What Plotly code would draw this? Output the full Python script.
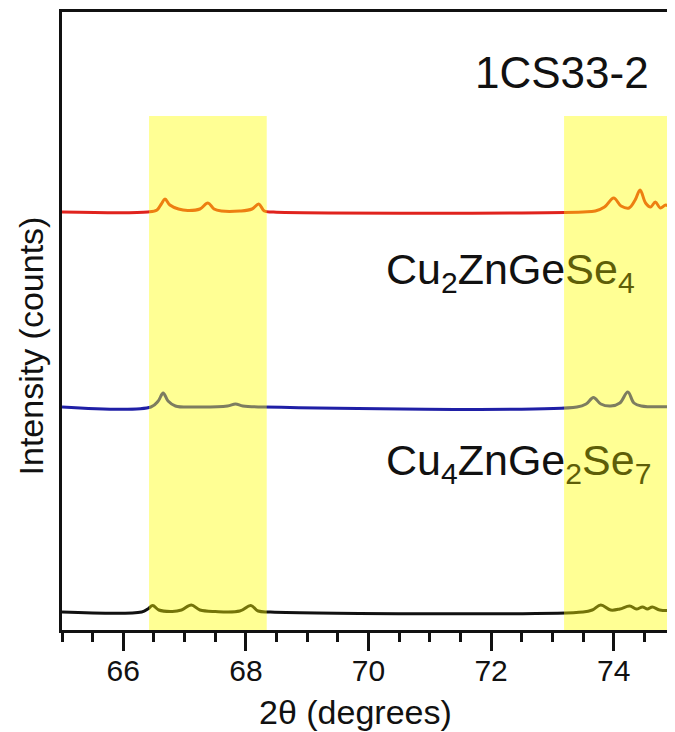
import plotly.graph_objects as go

# ---- data (intensity in arbitrary counts) ----
red_x = [65.0, 66.40, 66.55, 66.62, 66.68, 66.76, 66.90, 67.05, 67.25, 67.38, 67.48, 67.60,
         67.90, 68.10, 68.21, 68.30, 68.45, 73.50, 73.70, 73.85, 74.00, 74.12, 74.25, 74.35,
         74.43, 74.52, 74.60, 74.68, 74.76, 74.85, 74.95, 75.0]
red_y = [418, 418, 420, 426, 431, 425, 421, 419.5, 421, 427, 421, 419,
         419, 421, 426, 419, 418, 418, 419, 423, 432, 424, 422, 430,
         440, 427, 423, 428, 422, 425, 421, 420]

blue_x = [65.0, 66.45, 66.57, 66.65, 66.73, 66.85, 67.20, 67.70, 67.83, 67.95, 68.30,
          73.40, 73.55, 73.67, 73.79, 73.95, 74.10, 74.23, 74.33, 74.45, 75.0]
blue_y = [223, 223, 229, 237, 229, 224, 223, 224, 226, 224, 223,
          223, 226, 232.5, 226, 224, 227, 238, 227, 224, 223.5]

black_x = [65.0, 66.30, 66.40, 66.48, 66.58, 66.80, 66.95, 67.11, 67.25, 67.50, 67.90,
           68.08, 68.20, 68.40, 73.50, 73.65, 73.79, 73.95, 74.10, 74.26, 74.37, 74.47,
           74.55, 74.63, 74.75, 75.0]
black_y = [18, 18, 21, 24.5, 20, 18.5, 20, 25, 20, 18.5, 19,
           24.5, 19, 18, 18, 20, 25, 20, 21, 24, 21, 23,
           21, 23, 20, 19.5]

bands = [(66.42, 68.34), (73.19, 75.0)]
band_top = 514
x_ticks = [66, 68, 70, 72, 74]
x_range = [65, 75]
y_range = [0, 618]

FONT = "Liberation Sans, Arial, sans-serif"
OLIVE = "#5e5e08"

fig = go.Figure()
for xs, ys, col in [(red_x, red_y, "#e0231e"), (blue_x, blue_y, "#1f1fa6"), (black_x, black_y, "#111111")]:
    fig.add_trace(go.Scatter(x=xs, y=ys, mode="lines",
                             line=dict(color=col, width=3, shape="spline", smoothing=1.0),
                             showlegend=False, hoverinfo="skip"))

for x0, x1 in bands:
    fig.add_shape(type="rect", xref="x", yref="y", x0=x0, x1=x1, y0=y_range[0], y1=band_top,
                  fillcolor="#ffff00", opacity=0.42, line=dict(width=0), layer="above")

fig.add_annotation(x=73.15, y=558, xref="x", yref="y", text="1CS33-2", showarrow=False,
                   font=dict(family=FONT, size=44, color="#111111"))
fig.add_annotation(x=70.25, y=358, xref="x", yref="y", xanchor="left",
                   text=f"Cu<sub>2</sub>ZnGe<span style='color:{OLIVE}'>Se<sub>4</sub></span>",
                   showarrow=False, font=dict(family=FONT, size=43, color="#111111"))
fig.add_annotation(x=70.25, y=167, xref="x", yref="y", xanchor="left",
                   text=f"Cu<sub>4</sub>ZnGe<span style='color:{OLIVE}'><sub>2</sub>Se<sub>7</sub></span>",
                   showarrow=False, font=dict(family=FONT, size=43, color="#111111"))

fig.add_annotation(x=0.478, y=-0.133, xref="paper", yref="paper", text="2θ (degrees)",
                   showarrow=False, font=dict(family=FONT, size=34, color="#111111"),
                   xanchor="center", yanchor="middle")
fig.add_annotation(x=-0.051, y=0.46, xref="paper", yref="paper", text="Intensity (counts)",
                   showarrow=False, textangle=-90, font=dict(family=FONT, size=34, color="#111111"),
                   xanchor="center", yanchor="middle")

fig.update_xaxes(range=x_range, tickvals=x_ticks, ticktext=[str(t) for t in x_ticks],
                 ticks="outside", ticklen=18, tickwidth=2.5, tickcolor="#111111",
                 ticklabelstandoff=-6,
                 minor=dict(dtick=0.5, ticks="outside", ticklen=9, tickwidth=2.5, tickcolor="#111111"),
                 showline=True, linewidth=3, linecolor="#111111", mirror=True,
                 showgrid=False, zeroline=False,
                 tickfont=dict(family=FONT, size=30, color="#111111"))
fig.update_yaxes(range=y_range, showticklabels=False, ticks="", showline=True, linewidth=3,
                 linecolor="#111111", mirror=False, showgrid=False, zeroline=False)

fig.update_layout(width=667, height=724, margin=dict(l=54, r=0, t=4, b=102),
                  plot_bgcolor="white", paper_bgcolor="white",
                  font=dict(family=FONT))

fig.write_html("out.html")
